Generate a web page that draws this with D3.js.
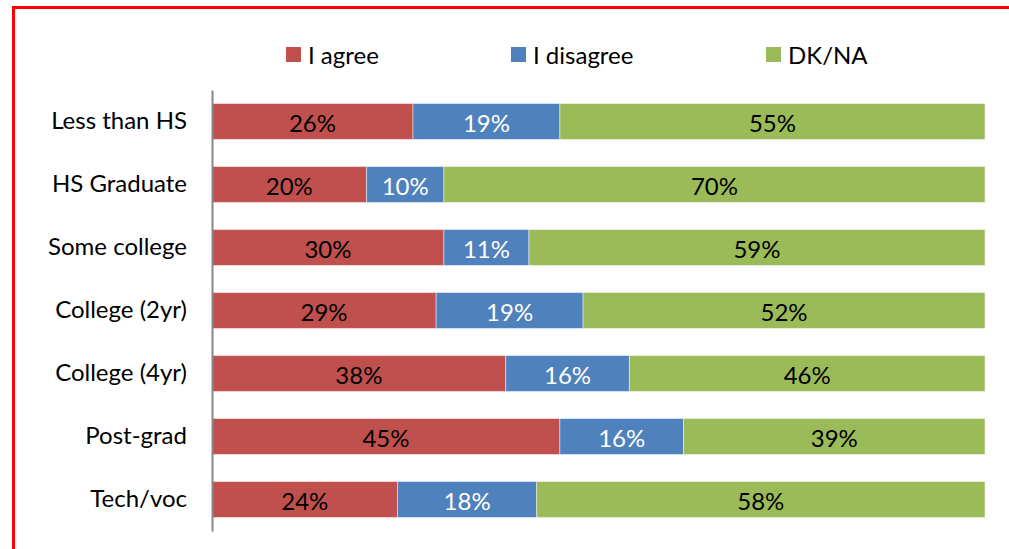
<!DOCTYPE html>
<html><head><meta charset="utf-8">
<script src="https://cdn.jsdelivr.net/npm/d3@7"></script>
<style>html,body{margin:0;padding:0;background:#fff;}svg{display:block;font-family:Lato, "Noto Sans", sans-serif;}</style>
</head><body>
<svg id="c" width="1009" height="549"></svg>
<script>
const categories = ["Less than HS","HS Graduate","Some college","College (2yr)","College (4yr)","Post-grad","Tech/voc"];
const seriesNames = ["I agree","I disagree","DK/NA"];
const agree    = [26,20,30,29,38,45,24];
const disagree = [19,10,11,19,16,16,18];
const dkna     = [55,70,59,52,46,39,58];
const colors = ["#C0504D","#4F81BD","#9BBB59"];
const labelColors = ["#000","#fff","#000"];
const FS = 24;

const svg = d3.select("#c");
// red frame
svg.append("rect").attr("x",13.5).attr("y",7.5).attr("width",1100).attr("height",700)
  .attr("fill","none").attr("stroke","#FF0000").attr("stroke-width",3);

const x = d3.scaleLinear().domain([0,100]).range([212,985]);
const y = d3.scaleBand().domain(categories).range([90,531]).paddingInner(0.43).paddingOuter(0.215);

const rows = categories.map((c,i)=>({cat:c, vals:[agree[i],disagree[i],dkna[i]]}));
const stackData = rows.map(r=>({cat:r.cat,"I agree":r.vals[0],"I disagree":r.vals[1],"DK/NA":r.vals[2]}));
const stacked = d3.stack().keys(seriesNames)(stackData);

const g = svg.append("g");
stacked.forEach((s,si)=>{
  const sg = g.append("g");
  sg.selectAll("rect").data(s).join("rect")
    .attr("x",d=>x(d[0])).attr("width",d=>x(d[1])-x(d[0]))
    .attr("y",d=>y(d.data.cat)).attr("height",y.bandwidth())
    .attr("fill",colors[si]).attr("stroke","rgba(255,255,255,0.45)").attr("stroke-width",1);
  sg.selectAll("text").data(s).join("text")
    .attr("x",d=>(x(d[0])+x(d[1]))/2).attr("y",d=>y(d.data.cat)+y.bandwidth()/2+1)
    .attr("text-anchor","middle").attr("dominant-baseline","central")
    .attr("font-size",FS).attr("fill",labelColors[si])
    .text(d=>(d[1]-d[0])+"%");
});

const ax = svg.append("g").attr("transform","translate(212,0)")
  .call(d3.axisLeft(y).tickSize(0).tickPadding(25));
ax.select(".domain").attr("stroke","#888").attr("stroke-width",2);
ax.selectAll("text").attr("font-size",FS).attr("fill","#000").attr("font-family","Lato, 'Noto Sans', sans-serif");

// legend
const legX = [286,511,766];
const lg = svg.append("g");
seriesNames.forEach((n,i)=>{
  lg.append("rect").attr("x",legX[i]).attr("y",47).attr("width",15).attr("height",15).attr("fill",colors[i]);
  lg.append("text").attr("x",legX[i]+22).attr("y",54.5).attr("dominant-baseline","central")
    .attr("font-size",FS).attr("fill","#000").text(n);
});
</script>
</body></html>
